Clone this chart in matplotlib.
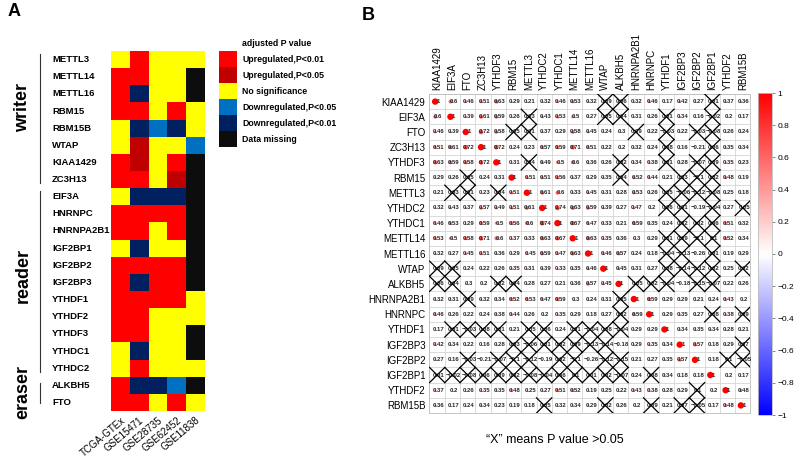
import matplotlib
matplotlib.use("Agg")
import matplotlib.pyplot as plt
import numpy as np
from matplotlib.colors import ListedColormap, Normalize
from matplotlib.patches import Circle
from matplotlib.cm import ScalarMappable
from matplotlib.transforms import blended_transform_factory

plt.rcParams["font.family"] = ["Liberation Sans", "DejaVu Sans"]

# ---- panel A data ----
genes_a = ["METTL3", "METTL14", "METTL16", "RBM15", "RBM15B", "WTAP", "KIAA1429",
           "ZC3H13", "EIF3A", "HNRNPC", "HNRNPA2B1", "IGF2BP1", "IGF2BP2", "IGF2BP3",
           "YTHDF1", "YTHDF2", "YTHDF3", "YTHDC1", "YTHDC2", "ALKBH5", "FTO"]
datasets = ["TCGA-GTEx", "GSE15471", "GSE28735", "GSE62452", "GSE11838"]
status_names = ["Upregulated,P<0.01", "Upregulated,P<0.05", "No significance",
                "Downregulated,P<0.05", "Downregulated,P<0.01", "Data missing"]
status_colors = ["#FF0000", "#C00000", "#FFFF00", "#0070C0", "#002060", "#0D0D0D"]
U, u, N, d, D, M = range(6)
status = [
    [N, U, N, N, N],
    [U, U, N, N, M],
    [U, D, N, N, M],
    [U, U, N, U, N],
    [N, D, d, D, N],
    [N, u, N, N, d],
    [U, u, N, U, M],
    [U, U, N, u, M],
    [N, D, D, D, M],
    [U, U, U, U, M],
    [U, U, N, U, M],
    [N, D, N, N, M],
    [U, U, U, U, M],
    [U, D, U, U, M],
    [U, U, U, U, N],
    [U, U, N, N, N],
    [U, U, N, N, M],
    [N, D, N, N, M],
    [N, U, N, N, N],
    [U, D, D, d, M],
    [U, U, N, U, N],
]
group_names = ["writer", "reader", "eraser"]
group_label_y = [2.8, 12.6, 19.4]
group_line_span = [(-0.32, 7.2), (7.67, 18.23), (18.87, 20.04)]

# ---- panel B data ----
corr_genes = ["KIAA1429", "EIF3A", "FTO", "ZC3H13", "YTHDF3", "RBM15", "METTL3",
              "YTHDC2", "YTHDC1", "METTL14", "METTL16", "WTAP", "ALKBH5", "HNRNPA2B1",
              "HNRNPC", "YTHDF1", "IGF2BP3", "IGF2BP2", "IGF2BP1", "YTHDF2", "RBM15B"]
corr_lower = [
    [1],
    [0.6, 1],
    [0.46, 0.39, 1],
    [0.51, 0.61, 0.72, 1],
    [0.63, 0.59, 0.58, 0.72, 1],
    [0.29, 0.26, 0.05, 0.24, 0.31, 1],
    [0.21, 0.03, 0.01, 0.23, 0.04, 0.51, 1],
    [0.32, 0.43, 0.37, 0.57, 0.49, 0.51, 0.61, 1],
    [0.46, 0.53, 0.29, 0.59, 0.5, 0.56, 0.6, 0.74, 1],
    [0.53, 0.5, 0.58, 0.71, 0.6, 0.37, 0.33, 0.63, 0.67, 1],
    [0.32, 0.27, 0.45, 0.51, 0.36, 0.29, 0.45, 0.59, 0.47, 0.63, 1],
    [0.09, 0.05, 0.24, 0.22, 0.26, 0.35, 0.31, 0.39, 0.33, 0.35, 0.46, 1],
    [0.06, 0.04, 0.3, 0.2, 0.02, 0.04, 0.28, 0.27, 0.21, 0.36, 0.57, 0.45, 1],
    [0.32, 0.31, 0.09, 0.32, 0.34, 0.52, 0.53, 0.47, 0.59, 0.3, 0.24, 0.31, 0.05, 1],
    [0.46, 0.26, 0.22, 0.24, 0.38, 0.44, 0.26, 0.2, 0.35, 0.29, 0.18, 0.27, 0.02, 0.59, 1],
    [0.17, 0.01, -0.03, 0.08, 0.01, 0.21, 0.05, 0.06, 0.24, 0.01, -0.04, 0.08, -0.04,
     0.29, 0.29, 1],
    [0.42, 0.34, 0.22, 0.16, 0.28, 0.03, -0.06, 0.01, 0.02, 0.09, -0.13, -0.14, -0.18,
     0.29, 0.35, 0.34, 1],
    [0.27, 0.16, -0.03, -0.21, -0.07, -0.1, -0.12, -0.19, 0.02, -0.1, -0.26, -0.12, -0.15,
     0.21, 0.27, 0.35, 0.57, 1],
    [0.01, -0.02, -0.08, 0.06, 0.09, 0.02, -0.08, -0.04, 0.06, 0.1, 0.01, 0.02, -0.07,
     0.24, 0.08, 0.34, 0.18, 0.18, 1],
    [0.37, 0.2, 0.26, 0.35, 0.35, 0.48, 0.25, 0.27, 0.51, 0.52, 0.19, 0.25, 0.22,
     0.43, 0.38, 0.28, 0.29, 0.1, 0.2, 1],
    [0.36, 0.17, 0.24, 0.34, 0.23, 0.19, 0.18, 0.05, 0.32, 0.34, 0.29, 0.02, 0.26,
     0.2, 0.09, 0.21, 0.07, -0.05, 0.17, 0.48, 1],
]
# 'x' = P value > 0.05 (crossed out)
ns_lower = [
    ".",
    "..",
    "...",
    "....",
    ".....",
    "..x...",
    ".xx.x..",
    "........",
    ".........",
    "..........",
    "...........",
    "xx..........",
    "xx..xx.......",
    "..x.........x.",
    "............x..",
    ".xxxx.xx.xxxx...",
    ".....xxxxxxx.....",
    "..x.xxx.xx.xx.....",
    "xxxxxxxxxxxxx.x....",
    ".................x..",
    ".......x...x..x.xx...",
]

n = len(corr_genes)
corr = np.zeros((n, n))
ns = np.zeros((n, n), dtype=bool)
for i, row in enumerate(corr_lower):
    for j, v in enumerate(row):
        corr[i, j] = corr[j, i] = v
        ns[i, j] = ns[j, i] = ns_lower[i][j] == "x"

W, H = 796, 459
fig = plt.figure(figsize=(W / 100, H / 100), dpi=100)


def box(x0, y0, x1, y1):
    return [x0 / W, 1 - y1 / H, (x1 - x0) / W, (y1 - y0) / H]


# ---- panel A ----
axA = fig.add_axes(box(111, 51, 205, 411))
cmapA = ListedColormap(status_colors)
axA.imshow(np.array(status), cmap=cmapA, vmin=-0.5, vmax=5.5, aspect="auto",
           interpolation="nearest")
axA.set_xticks(range(len(datasets)))
axA.set_xticklabels(datasets, rotation=40, ha="right", rotation_mode="anchor", fontsize=7)
axA.tick_params(axis="x", length=0, pad=3)
axA.set_yticks([])
for s in axA.spines.values():
    s.set_visible(False)

trA = blended_transform_factory(fig.transFigure, axA.transData)
for i, g in enumerate(genes_a):
    axA.text(52 / W, i, g, transform=trA, ha="left", va="center", fontsize=6.8,
             fontweight="bold")
for name, yc, (y0, y1) in zip(group_names, group_label_y, group_line_span):
    axA.text(23 / W, yc, name, transform=trA, ha="center", va="center", rotation=90,
             fontsize=13, fontweight="bold")
    axA.plot([40 / W, 40 / W], [y0, y1], transform=trA, color="#333333", lw=0.8,
             clip_on=False)

axL = fig.add_axes(box(219, 51, 237, 147))
axL.imshow(np.arange(len(status_names)).reshape(-1, 1), cmap=cmapA, vmin=-0.5, vmax=5.5,
           aspect="auto")
axL.axis("off")
fig.text(242 / W, 1 - 43 / H, "adjusted P value", fontsize=6.3, fontweight="bold",
         va="center")
for k, name in enumerate(status_names):
    axL.text(0.78, k, name, fontsize=6.3, fontweight="bold", va="center", ha="left")

fig.text(8 / W, 1 - 12 / H, "A", fontsize=13, fontweight="bold", va="center")
fig.text(362 / W, 1 - 15 / H, "B", fontsize=13, fontweight="bold", va="center")

# ---- panel B ----
axB = fig.add_axes(box(429.5, 94, 750.5, 413))
cmapB = plt.get_cmap("bwr")
norm = Normalize(-1, 1)
axB.set_xlim(-0.5, n - 0.5)
axB.set_ylim(n - 0.5, -0.5)
axB.set_xticks(np.arange(-0.5, n, 1), minor=True)
axB.set_yticks(np.arange(-0.5, n, 1), minor=True)
axB.grid(which="minor", color="#d4d4d4", lw=0.6)
axB.tick_params(which="minor", length=0)
axB.xaxis.tick_top()
axB.set_xticks(range(n))
axB.set_xticklabels(corr_genes, rotation=90, fontsize=7)
axB.set_yticks(range(n))
axB.set_yticklabels(corr_genes, fontsize=7)
axB.tick_params(which="major", length=0, pad=3)
for s in axB.spines.values():
    s.set_color("#bdbdbd")
    s.set_linewidth(0.6)


def fmt(v):
    t = f"{v:.2f}".rstrip("0").rstrip(".")
    return t.replace("-", "\u2212")


for i in range(n):
    for j in range(n):
        v = corr[i, j]
        axB.add_patch(Circle((j - 0.13, i), 0.21 * abs(v), color=cmapB(norm(v)),
                             lw=0, zorder=2))
        axB.text(j + 0.08, i, fmt(v), ha="center", va="center", fontsize=4.3,
                 fontweight="bold", color="#262626", zorder=3)
        if ns[i, j]:
            axB.plot([j - 0.5, j + 0.5], [i - 0.5, i + 0.5], color="black", lw=0.9,
                     zorder=4)
            axB.plot([j - 0.5, j + 0.5], [i + 0.5, i - 0.5], color="black", lw=0.9,
                     zorder=4)

cax = fig.add_axes(box(758, 93, 772, 415))
cb = fig.colorbar(ScalarMappable(norm=norm, cmap=cmapB), cax=cax,
                  ticks=np.linspace(-1, 1, 11))
cb.ax.set_yticklabels([fmt(t) for t in np.linspace(-1, 1, 11)])
cb.ax.tick_params(labelsize=6, length=2.5, width=0.5, color="#555555", pad=1.5)
cb.outline.set_edgecolor("#bdbdbd")
cb.outline.set_linewidth(0.6)

fig.text(555 / W, 1 - 440 / H, "\u201cX\u201d means P value >0.05", fontsize=9,
         ha="center", va="center")

fig.savefig("out.png", dpi=100)
